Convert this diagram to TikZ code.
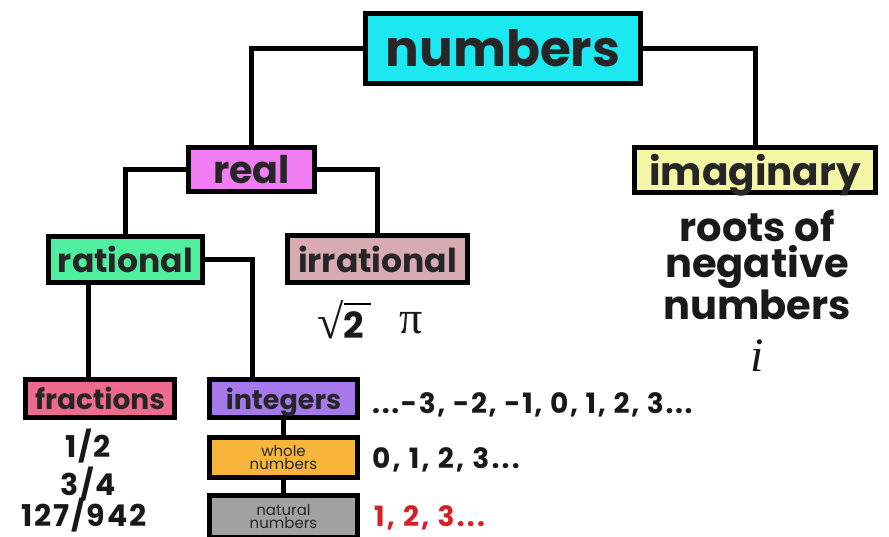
\documentclass[tikz,border=0pt]{standalone}
\usepackage{fontspec}
\setmainfont{Poppins}
\newfontfamily\serifsym{Liberation Serif}
\usepackage{tikz}
\usetikzlibrary{positioning, calc}
\definecolor{numcyan}{HTML}{1CE8F2}
\definecolor{realpink}{HTML}{F07EF2}
\definecolor{ratgreen}{HTML}{4EF0A0}
\definecolor{irrmauve}{HTML}{D8AAB2}
\definecolor{imgyellow}{HTML}{F6F7A6}
\definecolor{fracred}{HTML}{EE6A8E}
\definecolor{intviolet}{HTML}{A778EC}
\definecolor{wholeorange}{HTML}{F7B53A}
\definecolor{natgray}{HTML}{A2A2A2}
\definecolor{textred}{HTML}{D42128}

\begin{document}
\begin{tikzpicture}[
    x=1pt, y=-1pt,
    font={\bfseries},
    box/.style={draw, line width=5pt, rectangle, inner sep=0pt, text=black!85, text depth=0pt},
    smallbox/.style={draw, line width=5pt, rectangle, inner sep=0pt, text=black!85,
                align=center, font={\fontsize{15}{13}\selectfont\mdseries}},
    link/.style={line width=5pt},
    lbl/.style={inner sep=0pt, align=center, text=black!90}
]
\useasboundingbox (0,0) rectangle (889,537);

% Oberster Knoten
\node[box, fill=numcyan, minimum width=275, minimum height=70,
      font={\fontsize{50}{50}\selectfont\bfseries}] (numbers) at (503,48.5) {numbers};

% Zweite Ebene
\node[box, fill=realpink, minimum width=126, minimum height=44,
      font={\fontsize{38}{38}\selectfont\bfseries}] (real) at (251.5,169.5) {real};
\node[box, fill=imgyellow, minimum width=241, minimum height=45,
      font={\fontsize{39}{39}\selectfont\bfseries}] (imaginary) at (755,170) {imaginary};

% Dritte Ebene
\node[box, fill=ratgreen, minimum width=154, minimum height=46,
      font={\fontsize{33}{33}\selectfont\bfseries}] (rational) at (125.5,259.5) {rational};
\node[box, fill=irrmauve, minimum width=180, minimum height=47,
      font={\fontsize{33}{33}\selectfont\bfseries}] (irrational) at (377.5,259) {irrational};

% Unterste Ebene
\node[box, fill=fracred, minimum width=149, minimum height=38,
      font={\fontsize{28}{28}\selectfont\bfseries}] (fractions) at (100,398.5) {fractions};
\node[box, fill=intviolet, minimum width=148, minimum height=38,
      font={\fontsize{27}{27}\selectfont\bfseries}] (integers) at (283.5,398.5) {integers};
\node[smallbox, fill=wholeorange, minimum width=148, minimum height=40] (whole) at (283.5,457.5) {whole\\numbers};
\node[smallbox, fill=natgray, minimum width=148, minimum height=42] (natural) at (283.5,516.5) {natural\\numbers};

% --- Verbindungen ---
\draw[link] (numbers.west) -| (real.north);
\draw[link] (numbers.east) -| (imaginary.north);
\draw[link] (real.west) -| (rational.north);
\draw[link] (real.east) -| (irrational.north);

\coordinate (fracin) at ([xshift=-12]fractions.north);
\coordinate (intin)  at ([xshift=-31]integers.north);
\draw[link] (fracin) -- (fracin |- rational.south);
\draw[link] (rational.east) -| (intin);
\draw[link] (integers.south) -- (whole.north);
\draw[link] (whole.south) -- (natural.north);

% --- Beschriftungen ---
\node[lbl, font={\fontsize{40}{36}\selectfont\bfseries}] (roots) at (757,265) {roots of\\negative\\numbers};
\node[lbl, font={\fontsize{48}{48}\selectfont\serifsym\itshape\mdseries}] (unit) at (757,356) {i};

% Wurzel 2 und pi
\node[lbl, anchor=base east, font={\fontsize{48}{48}\selectfont\serifsym\mdseries}] (rootsign) at (344,338) {√};
\node[lbl, anchor=base west, font={\fontsize{36}{36}\selectfont\bfseries}] (two) at (343,338) {2};
\draw[line width=2.2pt] ([yshift=-4]rootsign.north east) -- ++(27,0);
\node[lbl, anchor=base west, font={\fontsize{46}{46}\selectfont\serifsym\mdseries}] (pi) at (399,334) {π};

\node[lbl, font={\fontsize{30}{30}\selectfont\bfseries\addfontfeatures{LetterSpace=6}}] (half) at (88,446) {1/2};
\node[lbl, font={\fontsize{30}{30}\selectfont\bfseries\addfontfeatures{LetterSpace=6}}] (threeq) at (88,484) {3/4};
\node[lbl, font={\fontsize{30}{30}\selectfont\bfseries\addfontfeatures{LetterSpace=6}}] (bigfrac) at (84,515) {127/942};

\node[lbl, anchor=west, font={\fontsize{28}{28}\selectfont\bfseries\addfontfeatures{LetterSpace=6}}] (intex) at (372,405) {...-3, -2, -1, 0, 1, 2, 3...};
\node[lbl, anchor=west, font={\fontsize{28}{28}\selectfont\bfseries\addfontfeatures{LetterSpace=8}}] (wholeex) at (372,460) {0, 1, 2, 3...};
\node[lbl, anchor=west, text=textred, font={\fontsize{28}{28}\selectfont\bfseries\addfontfeatures{LetterSpace=8}}] (natex) at (374,518) {1, 2, 3...};

\end{tikzpicture}
\end{document}
